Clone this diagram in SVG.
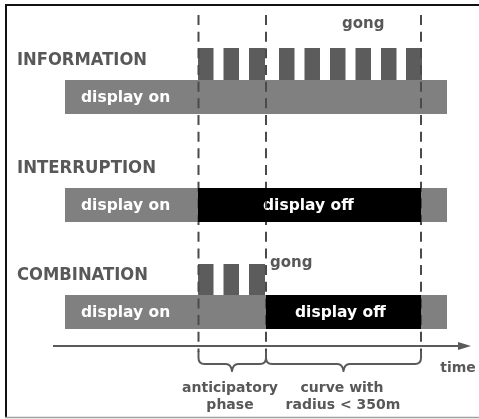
<svg xmlns="http://www.w3.org/2000/svg" width="479" height="419" viewBox="0 0 479 419">
  <style>
    .lbl { font-family: "DejaVu Sans", Verdana, sans-serif; font-weight: bold; fill: #585858; }
    .row { font-size: 17px; }
    .bar-txt { font-family: "DejaVu Sans", Verdana, sans-serif; font-weight: bold; font-size: 15.5px; fill: #ffffff; }
    .on { fill: #808080; }
    .off { fill: #000000; }
    .tone { fill: #5c5c5c; }
    .dash { stroke: #4a4a4a; stroke-width: 2; stroke-dasharray: 10 6.67; fill: none; mix-blend-mode: darken; }
    .axis { stroke: #5a5a5a; stroke-width: 2; fill: none; }
    .brace { stroke: #5a5a5a; stroke-width: 2; fill: none; stroke-linejoin: round; }
    .small { font-size: 14px; }
  </style>
  <rect width="479" height="419" fill="#ffffff"/>

  <!-- frame -->
  <g id="frame">
    <line x1="5" y1="5" x2="479" y2="5" stroke="#111" stroke-width="2"/>
    <line x1="6" y1="4" x2="6" y2="418" stroke="#111" stroke-width="2"/>
    <line x1="5" y1="417.5" x2="479" y2="417.5" stroke="#a0a0a0" stroke-width="1.5"/>
  </g>

  <!-- row 1: information -->
  <g id="information">
    <text class="lbl row" x="17" y="65" textLength="130" lengthAdjust="spacingAndGlyphs">INFORMATION</text>
    <g class="tone">
      <rect x="198" y="48" width="15.5" height="33"/>
      <rect x="223.5" y="48" width="15.5" height="33"/>
      <rect x="249" y="48" width="16" height="33"/>
      <rect x="279" y="48" width="15.5" height="33"/>
      <rect x="304.5" y="48" width="15.5" height="33"/>
      <rect x="330" y="48" width="15.5" height="33"/>
      <rect x="355.5" y="48" width="15.5" height="33"/>
      <rect x="381" y="48" width="15.5" height="33"/>
      <rect x="406" y="48" width="16" height="33"/>
    </g>
    <rect class="on" x="65" y="80" width="382" height="34"/>
    <text class="bar-txt" x="81" y="102">display on</text>
    <text class="lbl" x="342" y="28" font-size="15">gong</text>
  </g>

  <!-- row 2: interruption -->
  <g id="interruption">
    <text class="lbl row" x="17" y="172.5" textLength="139" lengthAdjust="spacingAndGlyphs">INTERRUPTION</text>
    <rect class="on" x="65" y="188" width="382" height="34"/>
    <rect class="off" x="198" y="188" width="223" height="34"/>
    <text class="bar-txt" x="81" y="210">display on</text>
    <text class="bar-txt" x="263" y="210">display off</text>
  </g>

  <!-- row 3: combination -->
  <g id="combination">
    <text class="lbl row" x="17" y="279.5" textLength="131" lengthAdjust="spacingAndGlyphs">COMBINATION</text>
    <g class="tone">
      <rect x="198" y="264" width="15.5" height="32"/>
      <rect x="223.5" y="264" width="15.5" height="32"/>
      <rect x="249" y="264" width="16" height="32"/>
    </g>
    <rect class="on" x="65" y="295" width="382" height="34"/>
    <rect class="off" x="266" y="295" width="155" height="34"/>
    <text class="bar-txt" x="81" y="317">display on</text>
    <text class="bar-txt" x="295" y="317">display off</text>
    <text class="lbl" x="270" y="267" font-size="15">gong</text>
  </g>

  <!-- connectors: phase markers, time axis, braces -->
  <g id="connectors">
    <line class="dash" x1="198.5" y1="15" x2="198.5" y2="352"/>
    <line class="dash" x1="266" y1="15" x2="266" y2="352"/>
    <line class="dash" x1="421" y1="15" x2="421" y2="352"/>

    <line class="axis" x1="53" y1="346" x2="466" y2="346"/>
    <polygon points="458,342 471,346 458,350" fill="#5a5a5a"/>

    <path class="brace" d="M198.5,351 L198.5,358 Q198.5,364 204.5,364 L226,364 Q231,364 232,371 Q233,364 238,364 L260,364 Q266,364 266,358 L266,351"/>
    <path class="brace" d="M266,351 L266,358 Q266,364 272,364 L337.5,364 Q342.5,364 343.5,371 Q344.5,364 349.5,364 L415,364 Q421,364 421,358 L421,351"/>
  </g>

  <!-- phase captions -->
  <g id="captions" class="lbl small" text-anchor="middle">
    <text x="458" y="372">time</text>
    <text x="230" y="391.5">anticipatory</text>
    <text x="230" y="409">phase</text>
    <text x="342" y="391.5">curve with</text>
    <text x="343" y="409">radius &lt; 350m</text>
  </g>
</svg>
